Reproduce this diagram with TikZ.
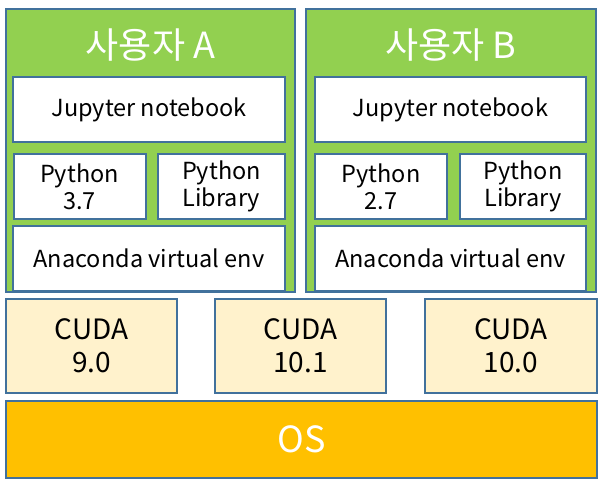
\documentclass[tikz,border=0pt]{standalone}
\usepackage{fontspec}
\setmainfont{Noto Sans CJK KR}
\definecolor{usergreen}{HTML}{92D050}
\definecolor{edgeblue}{HTML}{41719C}
\definecolor{cudafill}{HTML}{FFF2CC}
\definecolor{osfill}{HTML}{FFC000}
\tikzset{
  every picture/.style={
    x=1pt, y=-1pt
  },
  userbox/.style={
    draw=edgeblue, line width=2pt, fill=usergreen,
    inner sep=0pt
  },
  layerbox/.style={
    draw=edgeblue, line width=2pt, fill=white,
    inner sep=0pt, minimum height=65pt, align=center,
    font=\fontsize{23.5}{27}\selectfont
  },
  cudabox/.style={
    draw=edgeblue, line width=2pt, fill=cudafill,
    inner sep=0pt, minimum width=171pt, minimum height=94pt,
    align=center, font=\fontsize{28}{33}\selectfont
  },
  titletext/.style={
    text=white, font=\fontsize{36}{40}\selectfont
  }
}
\begin{document}
\begin{tikzpicture}
    \useasboundingbox (0,0) rectangle (603,484);
    % users
    \node [userbox,minimum width=289pt,minimum height=283pt] (userA) at (150.5,150.5) {};
    \node [userbox,minimum width=290pt,minimum height=283pt] (userB) at (451,150.5) {};
    \node [titletext] (titleA) at (150.5,45) {사용자 A};
    \node [titletext] (titleB) at (451,45) {사용자 B};
    % user A stack
    \node [layerbox,minimum width=272pt] (jupA) at (149,109.5) {Jupyter notebook};
    \node [layerbox,minimum width=132pt] (pyA) at (79.5,186.5) {Python\\3.7};
    \node [layerbox,minimum width=127pt] (libA) at (221.5,186.5) {Python\\Library};
    \node [layerbox,minimum width=272pt] (anaA) at (149,258.5) {Anaconda virtual env};
    % user B stack
    \node [layerbox,minimum width=271pt] (jupB) at (450.5,109.5) {Jupyter notebook};
    \node [layerbox,minimum width=132pt] (pyB) at (381,186.5) {Python\\2.7};
    \node [layerbox,minimum width=126pt] (libB) at (523,186.5) {Python\\Library};
    \node [layerbox,minimum width=271pt] (anaB) at (450.5,258.5) {Anaconda virtual env};
    % cuda
    \node [cudabox] (cuda1) at (91.5,346) {CUDA\\9.0};
    \node [cudabox] (cuda2) at (300.5,346) {CUDA\\10.1};
    \node [cudabox,minimum width=172pt] (cuda3) at (511,346) {CUDA\\10.0};
    % os
    \node [draw=edgeblue,line width=2pt,fill=osfill,minimum width=591pt,
      minimum height=77pt,inner sep=0pt,titletext] (os) at (301.5,439.5) {OS};
  \end{tikzpicture}
\end{document}
